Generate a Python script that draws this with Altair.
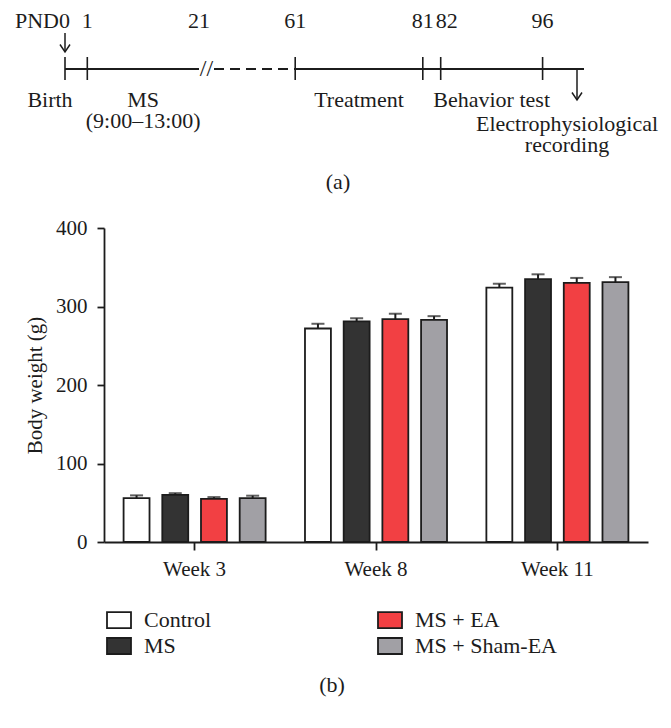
import altair as alt
import pandas as pd

FONT = "Liberation Serif"
INK = "#1c1c1c"

# ---------------- panel (b) data ----------------
weeks = ["Week 3", "Week 8", "Week 11"]
groups = ["Control", "MS", "MS + EA", "MS + Sham-EA"]
group_colors = ["#FFFFFF", "#333333", "#F24043", "#A1A0A5"]
mean_control = [56, 272, 324]
mean_ms = [60, 281, 335]
mean_ea = [55, 284, 330]
mean_sham = [56, 283, 331]
sem_control = [3.4, 6.0, 5.0]
sem_ms = [2.2, 4.0, 6.0]
sem_ea = [2.2, 6.8, 6.4]
sem_sham = [3.0, 4.7, 6.4]
y_ticks = [0, 100, 200, 300, 400]

# ---------------- panel (a) timeline data ----------------
scale_days = [0, 1, 21, 27, 61, 81, 82, 96, 99, 100]
tick_days = [0, 1, 61, 81, 82, 96]
num_labels = ["1", "21", "61", "81", "96"]
num_label_days = [1, 21, 61, 81, 96]
solid_start = [0, 61]
solid_end = [21, 100]
dashed_start = [27]
dashed_end = [61]
break_day = [24]
period_labels = ["MS\n(9:00–13:00)", "Treatment", "Behavior test"]
period_days = [11, 71, 89]
birth_day = [0]
recording_day = [99]

# ---------------- tables ----------------
rows = []
for g, means, sems in zip(groups,
                          [mean_control, mean_ms, mean_ea, mean_sham],
                          [sem_control, sem_ms, sem_ea, sem_sham]):
    for w, m, s in zip(weeks, means, sems):
        rows.append({"week": w, "group": g, "mean": m, "upper": m + s})
df = pd.DataFrame(rows)

X = alt.X("week:N", sort=weeks,
          scale=alt.Scale(paddingInner=0.217, paddingOuter=0.108),
          axis=alt.Axis(title=None, labelAngle=0, tickSize=8, labelPadding=8,
                        domainColor=INK, tickColor=INK, domainWidth=1.8, tickWidth=1.8))
XO = alt.XOffset("group:N", sort=groups,
                 scale=alt.Scale(paddingInner=0.33, paddingOuter=0))
Y = alt.Y("mean:Q", scale=alt.Scale(domain=[0, 400], nice=False),
          axis=alt.Axis(values=y_ticks, title="Body weight (g)", grid=False,
                        tickSize=7, labelPadding=10, titlePadding=10,
                        domainColor=INK, tickColor=INK, domainWidth=1.8, tickWidth=1.8))

bars = alt.Chart(df).mark_bar(stroke=INK, strokeWidth=1.8).encode(
    x=X, xOffset=XO, y=Y,
    fill=alt.Fill("group:N", scale=alt.Scale(domain=groups, range=group_colors),
                  legend=alt.Legend(title=None, orient="none", legendX=4, legendY=381,
                                    columns=2, columnPadding=162, rowPadding=2,
                                    symbolType="M-1.5,-1H1.5V1H-1.5Z", symbolSize=256,
                                    symbolStrokeColor=INK, symbolStrokeWidth=1.8,
                                    labelFont=FONT, labelFontSize=22, labelColor=INK,
                                    labelOffset=14, padding=0)),
)
err = alt.Chart(df).mark_rule(color=INK, strokeWidth=2).encode(
    x=X, xOffset=XO, y="mean:Q", y2="upper:Q")
caps = alt.Chart(df).mark_tick(color=INK, thickness=2, size=13).encode(
    x=X, xOffset=XO, y="upper:Q")
cap_b = alt.Chart(pd.DataFrame({"t": ["(b)"]})).mark_text(
    font=FONT, fontSize=22, color=INK, baseline="alphabetic").encode(
    text="t:N", x=alt.value(228), y=alt.value(464))

panel_b = alt.layer(bars, err, caps, cap_b)

# ---------------- timeline ----------------
tl_scale = alt.Scale(domain=scale_days,
                     range=[-39, -16.7, 95, 110, 191.2, 318.8, 336.7, 438.6, 473, 480],
                     zero=False, nice=False)
XT = alt.X("day:Q", scale=tl_scale, axis=None)
LINE_Y = -159

solid = alt.Chart(pd.DataFrame({"day": solid_start, "end": solid_end})).mark_rule(
    color=INK, strokeWidth=1.8).encode(x=XT, x2="end:Q", y=alt.value(LINE_Y))
dashed = alt.Chart(pd.DataFrame({"day": dashed_start, "end": dashed_end})).mark_rule(
    color=INK, strokeWidth=1.8, strokeDash=[10, 6]).encode(x=XT, x2="end:Q", y=alt.value(LINE_Y))
ticks = alt.Chart(pd.DataFrame({"day": tick_days})).mark_rule(
    color=INK, strokeWidth=1.6).encode(x=XT, y=alt.value(-171), y2=alt.value(-148))
brk = alt.Chart(pd.DataFrame({"day": break_day, "t": ["//"]})).mark_text(
    font=FONT, fontSize=24, color=INK, baseline="middle").encode(
    x=XT, y=alt.value(LINE_Y), text="t:N")

txt = dict(font=FONT, fontSize=22, color=INK, baseline="alphabetic")
nums = alt.Chart(pd.DataFrame({"day": num_label_days, "t": num_labels})).mark_text(
    align="center", **txt).encode(x=XT, y=alt.value(-200), text="t:N")
num82 = alt.Chart(pd.DataFrame({"day": [82], "t": ["82"]})).mark_text(
    align="center", dx=6, **txt).encode(x=XT, y=alt.value(-200), text="t:N")
pnd0 = alt.Chart(pd.DataFrame({"day": [0], "t": ["PND0"]})).mark_text(
    align="right", dx=5, **txt).encode(x=XT, y=alt.value(-200), text="t:N")
arrow0 = alt.Chart(pd.DataFrame({"day": [0]})).mark_rule(
    color=INK, strokeWidth=1.5).encode(x=XT, y=alt.value(-195), y2=alt.value(-176))
head0 = alt.Chart(pd.DataFrame({"day": [0]})).mark_point(
    shape="M-1,-1.5L0,0L1,-1.5", size=100, filled=False, color=INK, strokeWidth=1.5,
    opacity=1).encode(x=XT, y=alt.value(-176))

birth = alt.Chart(pd.DataFrame({"day": birth_day, "t": ["Birth"]})).mark_text(
    align="center", dx=-15, **txt).encode(x=XT, y=alt.value(-121), text="t:N")
periods = alt.Chart(pd.DataFrame({"day": period_days, "t": period_labels})).mark_text(
    align="center", lineBreak="\n", lineHeight=21, **txt).encode(
    x=XT, y=alt.value(-121), text="t:N")
arrow_r = alt.Chart(pd.DataFrame({"day": recording_day})).mark_rule(
    color=INK, strokeWidth=1.5).encode(x=XT, y=alt.value(LINE_Y), y2=alt.value(-128))
head_r = alt.Chart(pd.DataFrame({"day": recording_day})).mark_point(
    shape="M-1,-1.5L0,0L1,-1.5", size=100, filled=False, color=INK, strokeWidth=1.5,
    opacity=1).encode(x=XT, y=alt.value(-128))
rec = alt.Chart(pd.DataFrame({"day": recording_day,
                              "t": ["Electrophysiological\nrecording"]})).mark_text(
    align="center", dx=-10, lineBreak="\n", lineHeight=21, **txt).encode(
    x=XT, y=alt.value(-97), text="t:N")
cap_a = alt.Chart(pd.DataFrame({"t": ["(a)"]})).mark_text(align="center", **txt).encode(
    text="t:N", x=alt.value(234), y=alt.value(-39))

panel_a = alt.layer(solid, dashed, ticks, brk, nums, num82, pnd0, arrow0, head0,
                    birth, periods, arrow_r, head_r, rec, cap_a)

chart = alt.layer(panel_b, panel_a).resolve_scale(x="independent").properties(
    width=544, height=314,
    autosize=alt.AutoSizeParams(type="none"),
    padding={"left": 96, "top": 220, "right": 15, "bottom": 172},
).configure_view(stroke=None).configure_axis(
    labelFont=FONT, labelFontSize=21, labelColor=INK,
    titleFont=FONT, titleFontSize=21, titleFontWeight="normal", titleColor=INK,
)

chart.save("out.html", embed_options={"renderer": "svg", "actions": False})
